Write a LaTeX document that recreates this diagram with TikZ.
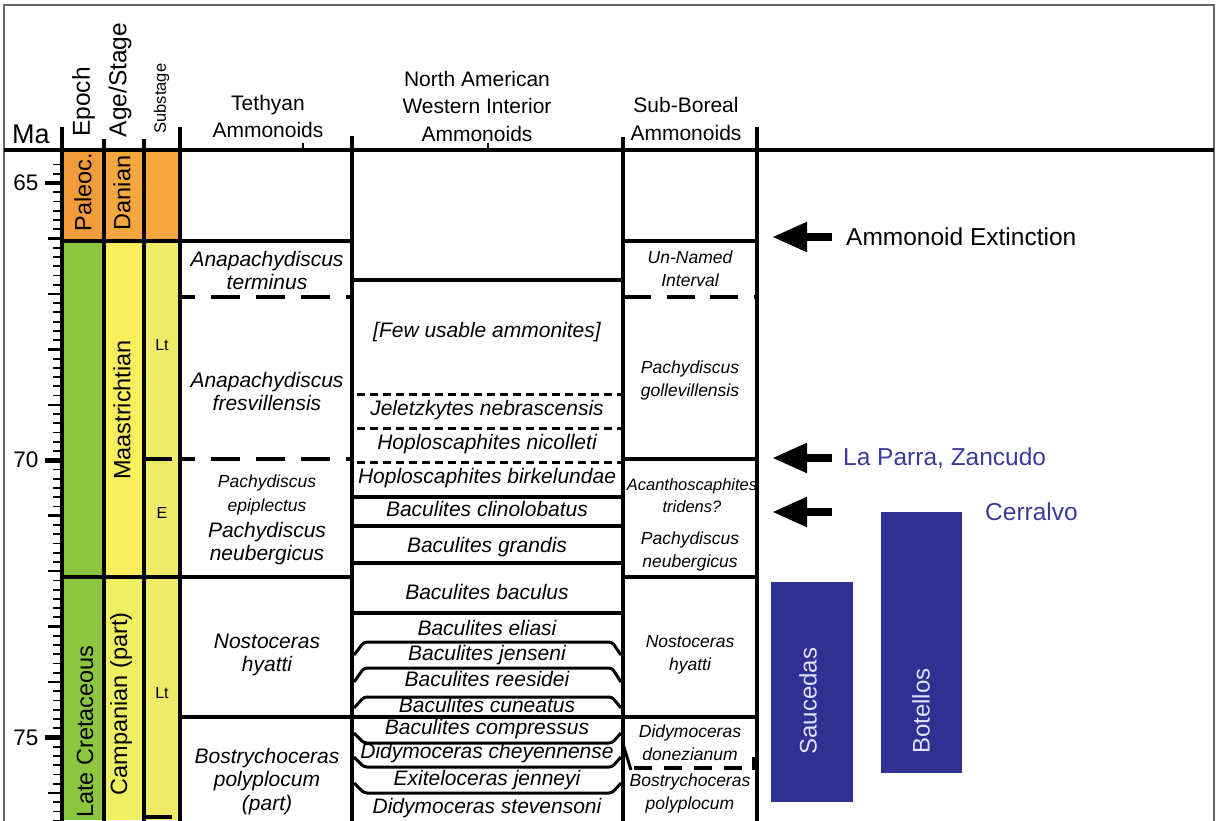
\documentclass[tikz,border=0pt]{standalone}
\usepackage{fontspec}
\setmainfont{Liberation Sans}
\usetikzlibrary{arrows.meta}
\definecolor{paleo}{HTML}{F29B3B}
\definecolor{danian}{HTML}{F6A740}
\definecolor{lcret}{HTML}{8CC63F}
\definecolor{maas}{HTML}{F8EE5E}
\definecolor{subst}{HTML}{EFEB69}
\definecolor{camp}{HTML}{EEF062}
\definecolor{siteblue}{HTML}{2E3192}
\definecolor{labblue}{HTML}{3B3B9E}
\definecolor{framegray}{HTML}{666666}
\begin{document}
\begin{tikzpicture}[x=1pt,y=-1pt,
  every node/.style={inner sep=0pt},
  hdr/.style={font=\fontsize{21}{27.5}\selectfont, align=center},
  colhdr/.style={font=\fontsize{24.5}{28}\selectfont, rotate=90},
  colname/.style={font=\fontsize{23.5}{28}\selectfont, rotate=90},
  tet/.style={font=\fontsize{21}{23.5}\selectfont\itshape, align=center},
  tetsmall/.style={font=\fontsize{17.5}{24}\selectfont\itshape, align=center},
  na/.style={font=\fontsize{21}{24}\selectfont\itshape},
  sb/.style={font=\fontsize{17.5}{23}\selectfont\itshape, align=center},
  subl/.style={font=\fontsize{16}{18}\selectfont},
  malab/.style={font=\fontsize{22.5}{26}\selectfont},
  rule/.style={line width=3.5pt},
  colrule/.style={line width=4pt},
  tdash/.style={line width=4pt, dash pattern=on 29pt off 16pt, dash phase=14pt},
  sdash/.style={line width=4pt, dash pattern=on 28pt off 15.5pt},
  ndot/.style={line width=3pt, dash pattern=on 8pt off 5pt},
  bracket/.style={line width=3pt, rounded corners=3pt},
  bdash/.style={line width=3.5pt, dash pattern=on 18pt off 12pt},
  pointer/.style={line width=8pt, -{Triangle[length=35pt,width=28pt]}},
  site/.style={fill=siteblue, draw=none},
  sitelabel/.style={font=\fontsize{24}{28}\selectfont, rotate=90, text=white!88!blue},
  note/.style={font=\fontsize{24.5}{28}\selectfont, anchor=west},
]
\useasboundingbox (0,0) rectangle (1221,820);
% frame
\draw[framegray, line width=1.5pt] (4,822) -- (4,5) -- (1214,5) -- (1214,822);

% colour columns
\fill[paleo]  (62,150) rectangle (104,241);
\fill[lcret]  (62,241) rectangle (104,820);
\fill[danian] (104,150) rectangle (144,241);
\fill[maas]   (104,241) rectangle (144,577);
\fill[camp]   (104,577) rectangle (144,820);
\fill[danian] (144,150) rectangle (180,241);
\fill[subst]  (144,241) rectangle (180,820);

% header texts
\node[font=\fontsize{27}{30}\selectfont] (ma) at (31,134.5) {Ma};
\node[colhdr] (hepoch) at (83.5,102) {Epoch};
\node[colhdr] (hage) at (120,80) {Age/Stage};
\node[font=\fontsize{16.5}{20}\selectfont, rotate=90] (hsub) at (161.5,98.5) {Substage};
\node[hdr] (htet) at (268,116.5) {Tethyan\\Ammonoids};
\node[hdr] (hna) at (477,106) {North American\\Western Interior\\Ammonoids};
\node[hdr] (hsb) at (686,119) {Sub-Boreal\\Ammonoids};

% age axis labels
\node[malab] (m65) at (26,183) {65};
\node[malab] (m70) at (26,460) {70};
\node[malab] (m75) at (26,738) {75};

% column names
\node[colname] (paleoc) at (83,192) {Paleoc.};
\node[colname] (danian) at (122,193) {Danian};
\node[colname] (maastr) at (122,410) {Maastrichtian};
\node[colname, anchor=west] (latecret) at (85,818) {Late Cretaceous};
\node[colname] (campan) at (121,704) {Campanian (part)};
\node[subl] (sub1) at (162,345) {Lt};
\node[subl] (sub2) at (162,513) {E};
\node[subl] (sub3) at (162,693) {Lt};

% Tethyan
\node[tet] (t1) at (267,270.5) {Anapachydiscus\\terminus};
\node[tet] (t2) at (267,391.5) {Anapachydiscus\\fresvillensis};
\node[tetsmall] (t3) at (267,495) {Pachydiscus\\epiplectus};
\node[tet] (t4) at (267,543.5) {Pachydiscus\\neubergicus};
\node[tet] (t5) at (267,655) {Nostoceras\\hyatti};
\node[tet] (t6) at (267,781.5) {Bostrychoceras\\polyplocum\\(part)};

% North American
\node[na] (n1) at (487,332) {[Few usable ammonites]};
\node[na] (n2) at (487,410) {Jeletzkytes nebrascensis};
\node[na] (n3) at (487,444) {Hoploscaphites nicolleti};
\node[na] (n4) at (487,478) {Hoploscaphites birkelundae};
\node[na] (n5) at (487,509) {Baculites clinolobatus};
\node[na] (n6) at (487,547) {Baculites grandis};
\node[na] (n7) at (487,592) {Baculites baculus};
\node[na] (n8) at (487,628) {Baculites eliasi};
\node[na] (n9) at (487,655) {Baculites jenseni};
\node[na] (n10) at (487,679) {Baculites reesidei};
\node[na] (n11) at (487,705) {Baculites cuneatus};
\node[na] (n12) at (487,729) {Baculites compressus};
\node[na] (n13) at (487,753) {Didymoceras cheyennense};
\node[na] (n14) at (487,780) {Exiteloceras jenneyi};
\node[na] (n15) at (487,808) {Didymoceras stevensoni};

% Sub-Boreal
\node[sb] (s1) at (690,268.5) {Un-Named\\Interval};
\node[sb] (s2) at (690,380) {Pachydiscus\\gollevillensis};
\node[sb, font=\fontsize{16.5}{22}\selectfont\itshape] (s3) at (692,496) {Acanthoscaphites\\tridens?};
\node[sb] (s4) at (690,551) {Pachydiscus\\neubergicus};
\node[sb] (s5) at (690,654.5) {Nostoceras\\hyatti};
\node[sb] (s6) at (690,742.5) {Didymoceras\\donezianum};
\node[sb] (s7) at (690,793.5) {Bostrychoceras\\polyplocum};

% axis and ticks
\foreach \i in {-2,...,69} {
  \pgfmathsetmacro\yy{183+\i*9.2417}
  \draw[line width=1.8pt] (53,\yy) -- (62,\yy);
}
\foreach \i in {0,...,11} {
  \pgfmathsetmacro\yy{183+\i*55.45}
  \draw[line width=2.5pt] (48,\yy) -- (62,\yy);
}
\foreach \yy in {183,460.25,737.5} \draw[line width=4.5pt] (45,\yy) -- (62,\yy);

% header line and column rules
\draw[line width=4.5pt] (4,150) -- (1214,150);
\draw[line width=2pt] (303,143) -- (303,150);
\draw[line width=2pt] (488,143) -- (488,150);
\draw[colrule] (62,127) -- (62,822);
\draw[colrule] (104,139) -- (104,822);
\draw[colrule] (144,139) -- (144,822);
\draw[colrule] (180,127) -- (180,822);
\draw[colrule] (352,136) -- (352,822);
\draw[colrule] (623,137) -- (623,822);
\draw[colrule] (757,127) -- (757,822);

% boundaries left block + Tethyan
\draw[rule] (62,241) -- (352,241);
\draw[tdash] (180,297) -- (352,297);
\draw[tdash] (180,459) -- (352,459);
\draw[rule] (144,459) -- (172,459);
\draw[rule] (62,577) -- (352,577);
\draw[rule] (180,717) -- (757,717);
\draw[rule] (144,817) -- (172,817);

% Sub-Boreal boundaries
\draw[rule] (623,241) -- (757,241);
\draw[sdash] (623,297) -- (757,297);
\draw[rule] (623,459) -- (757,459);
\draw[rule] (623,577) -- (757,577);
\draw[bdash] (634,768) -- (752,768);
\draw[line width=3pt] (623,744) -- (631,770);
\draw[line width=3pt] (753,757) -- (753,770);

% North American boundaries
\draw[rule] (352,280) -- (623,280);
\draw[ndot] (357,394) -- (621,394);
\draw[ndot] (357,428) -- (621,428);
\draw[ndot] (357,462) -- (621,462);
\draw[rule] (352,497) -- (623,497);
\draw[rule] (352,526) -- (623,526);
\draw[rule] (352,563) -- (623,563);
\draw[rule] (352,613) -- (623,613);
\draw[bracket] (354,655) -- (364,642) -- (612,642) -- (621,655);
\draw[bracket] (354,682) -- (364,668) -- (612,668) -- (621,682);
\draw[bracket] (354,708) -- (364,697) -- (612,697) -- (621,708);
\draw[bracket] (354,733) -- (364,743) -- (612,743) -- (621,733);
\draw[bracket] (354,757) -- (364,767) -- (612,767) -- (621,757);
\draw[bracket] (354,783) -- (364,793) -- (612,793) -- (621,783);

% arrows and labels
\coordinate (a1t) at (832,237); \coordinate (a1h) at (772,237);
\coordinate (a2t) at (832,458); \coordinate (a2h) at (772,458);
\coordinate (a3t) at (832,512); \coordinate (a3h) at (772,512);
\draw[pointer] (a1t) -- (a1h);
\draw[pointer] (a2t) -- (a2h);
\draw[pointer] (a3t) -- (a3h);
\node[note] (ext) at (846,237) {Ammonoid Extinction};
\node[note, text=labblue] (parra) at (843,458) {La Parra, Zancudo};
\node[note, text=labblue] (cerr) at (985,512) {Cerralvo};

% sections
\fill[site] (771,582) rectangle (853,802);
\fill[site] (881,512) rectangle (962,773);
\node[sitelabel] (sauc) at (808,701) {Saucedas};
\node[sitelabel] (bot) at (921,711) {Botellos};
\end{tikzpicture}
\end{document}
